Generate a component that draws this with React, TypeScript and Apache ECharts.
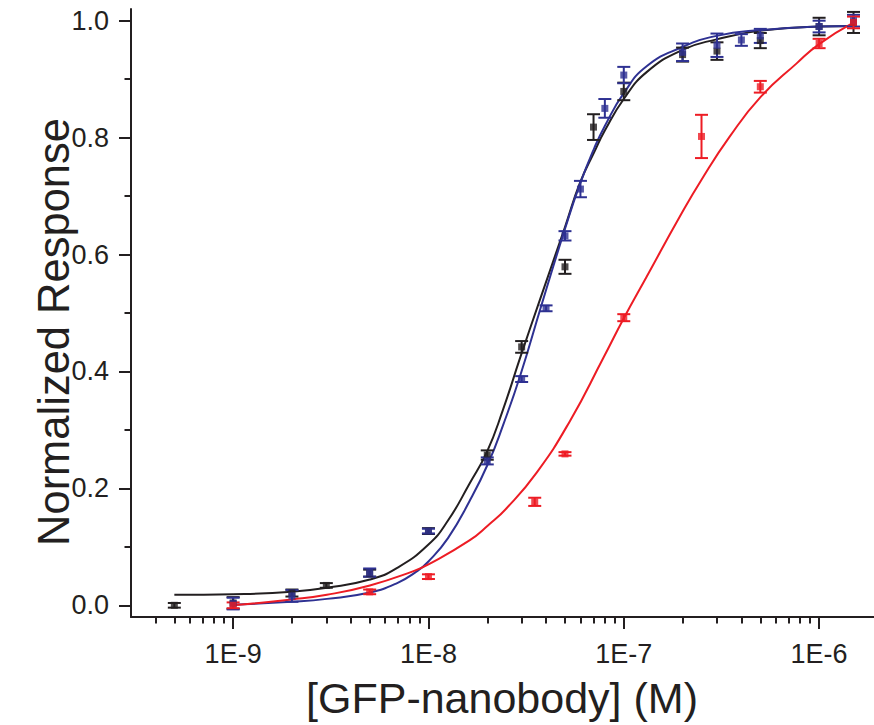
import React, { useEffect, useRef } from "react";
import * as echarts from "echarts";

// ---------- axes ----------
const X_MIN_CONC = 3e-10;
const X_MAX_CONC = 1.91e-6;
const X_MAJOR_EXP = [-9, -8, -7, -6];
const X_MINOR_MULT = [2, 3, 4, 5, 6, 7, 8, 9];
const X_MINOR_DECADES = [-10, -9, -8, -7, -6];
const Y_MIN = -0.02;
const Y_MAX = 1.02;
const Y_MAJOR = [0, 0.2, 0.4, 0.6, 0.8, 1.0];
const Y_MINOR = [0.1, 0.3, 0.5, 0.7, 0.9];

// ---------- measured points ----------
const BLACK_CONC = [5e-10, 1e-9, 2e-9, 3e-9, 5e-9, 1e-8, 2e-8, 3e-8, 5e-8, 7e-8, 1e-7, 2e-7, 3e-7, 5e-7, 1e-6, 1.5e-6];
const BLACK_VAL = [0.0, 0.004, 0.021, 0.034, 0.055, 0.127, 0.257, 0.442, 0.579, 0.818, 0.879, 0.942, 0.948, 0.966, 0.99, 0.997];
const BLACK_ERR = [0.004, 0.01, 0.006, 0.004, 0.006, 0.005, 0.008, 0.01, 0.012, 0.022, 0.015, 0.012, 0.015, 0.013, 0.015, 0.018];

const BLUE_CONC = [1e-9, 2e-9, 5e-9, 1e-8, 2e-8, 3e-8, 4e-8, 5e-8, 6e-8, 8e-8, 1e-7, 2e-7, 3e-7, 4e-7, 5e-7, 1e-6, 1.5e-6];
const BLUE_VAL = [0.003, 0.016, 0.056, 0.127, 0.247, 0.387, 0.508, 0.632, 0.712, 0.85, 0.907, 0.946, 0.958, 0.967, 0.974, 0.99, 1.0];
const BLUE_ERR = [0.01, 0.01, 0.007, 0.004, 0.006, 0.005, 0.005, 0.008, 0.014, 0.016, 0.014, 0.015, 0.02, 0.01, 0.012, 0.01, 0.01];

const RED_CONC = [1e-9, 5e-9, 1e-8, 3.5e-8, 5e-8, 1e-7, 2.5e-7, 5e-7, 1e-6, 1.5e-6];
const RED_VAL = [0.0, 0.023, 0.049, 0.177, 0.259, 0.492, 0.802, 0.887, 0.961, 0.997];
const RED_ERR = [0.005, 0.004, 0.004, 0.007, 0.003, 0.006, 0.037, 0.01, 0.008, 0.01];

// ---------- fitted curves (log10 of concentration) ----------
const BLACK_FIT_LOGX = [-9.301, -9.0, -8.7, -8.52, -8.3, -8.16, -8.0, -7.9, -7.79, -7.7, -7.62, -7.53, -7.43, -7.3, -7.225, -7.15, -7.097, -7.0, -6.883, -6.7, -6.525, -6.3, -6.0, -5.822];
const BLACK_FIT_VAL = [0.018, 0.019, 0.023, 0.03, 0.044, 0.064, 0.104, 0.145, 0.208, 0.263, 0.333, 0.424, 0.522, 0.648, 0.722, 0.776, 0.812, 0.866, 0.912, 0.95, 0.968, 0.983, 0.99, 0.991];

const BLUE_FIT_LOGX = [-9.0, -8.7, -8.52, -8.3, -8.16, -8.06, -8.0, -7.9, -7.79, -7.694, -7.616, -7.53, -7.42, -7.3, -7.225, -7.15, -7.097, -7.0, -6.883, -6.7, -6.525, -6.3, -6.0, -5.822];
const BLUE_FIT_VAL = [0.001, 0.006, 0.011, 0.022, 0.038, 0.058, 0.075, 0.115, 0.178, 0.243, 0.31, 0.393, 0.515, 0.645, 0.72, 0.783, 0.82, 0.876, 0.922, 0.955, 0.974, 0.984, 0.99, 0.991];

const RED_FIT_LOGX = [-9.0, -8.7, -8.52, -8.3, -8.08, -8.0, -7.79, -7.694, -7.6, -7.446, -7.276, -7.105, -7.0, -6.883, -6.713, -6.602, -6.457, -6.298, -6.115, -6.0, -5.822];
const RED_FIT_VAL = [0.0, 0.01, 0.018, 0.034, 0.058, 0.07, 0.111, 0.137, 0.166, 0.227, 0.315, 0.423, 0.491, 0.562, 0.665, 0.728, 0.802, 0.87, 0.927, 0.96, 0.997];

const X_TITLE = "[GFP-nanobody] (M)";
const Y_TITLE = "Normalized Response";

const BLACK = "#231f20";
const BLUE = "#2e3192";
const RED = "#ed1c24";
const FONT = "'Liberation Sans', Arial, Helvetica, sans-serif";

export default function App() {
  const ref = useRef<HTMLDivElement>(null);

  useEffect(() => {
    if (!ref.current) return;
    const chart = echarts.init(ref.current, undefined, { renderer: "svg" });

    const xMin = Math.log10(X_MIN_CONC);
    const xMax = Math.log10(X_MAX_CONC);
    const minorX: number[] = [];
    X_MINOR_DECADES.forEach((d) => {
      X_MINOR_MULT.forEach((m) => {
        const v = Math.log10(m) + d;
        if (v > xMin + 1e-6 && v < xMax - 1e-6) minorX.push(v);
      });
    });

    const pts = (conc: number[], val: number[], err: number[]) =>
      conc.map((c, i) => [Math.log10(c), val[i], err[i]]);
    const fit = (lx: number[], val: number[]) => lx.map((x, i) => [x, val[i]]);

    const errSeries = (data: number[][], color: string) => ({
      type: "custom",
      xAxisIndex: 0,
      yAxisIndex: 0,
      silent: true,
      encode: { x: 0, y: 1 },
      data,
      z: 4,
      renderItem: (_params: any, api: any) => {
        const x = api.value(0);
        const y = api.value(1);
        const e = api.value(2);
        const p1 = api.coord([x, y + e]);
        const p2 = api.coord([x, y - e]);
        const w = 6.5;
        const style = { stroke: color, lineWidth: 2, fill: null };
        return {
          type: "group",
          children: [
            { type: "line", shape: { x1: p1[0], y1: p1[1], x2: p2[0], y2: p2[1] }, style },
            { type: "line", shape: { x1: p1[0] - w, y1: p1[1], x2: p1[0] + w, y2: p1[1] }, style },
            { type: "line", shape: { x1: p2[0] - w, y1: p2[1], x2: p2[0] + w, y2: p2[1] }, style },
          ],
        };
      },
    });

    const lineSeries = (data: number[][], color: string) => ({
      type: "line",
      xAxisIndex: 0,
      yAxisIndex: 0,
      data,
      smooth: true,
      showSymbol: false,
      symbol: "none",
      silent: true,
      z: 3,
      lineStyle: { color, width: 2 },
    });

    const scatterSeries = (data: number[][], color: string) => ({
      type: "scatter",
      xAxisIndex: 0,
      yAxisIndex: 0,
      data: data.map((d) => [d[0], d[1]]),
      symbol: "rect",
      symbolSize: 7,
      silent: true,
      z: 5,
      itemStyle: { color },
    });

    const blackPts = pts(BLACK_CONC, BLACK_VAL, BLACK_ERR);
    const bluePts = pts(BLUE_CONC, BLUE_VAL, BLUE_ERR);
    const redPts = pts(RED_CONC, RED_VAL, RED_ERR);

    const axisLine = { show: true, onZero: false, lineStyle: { color: BLACK, width: 2 } };
    const hiddenLine = { show: false, onZero: false };

    chart.setOption({
      animation: false,
      backgroundColor: "#ffffff",
      grid: { left: 131, right: 0, top: 9, bottom: 108, containLabel: false },
      xAxis: [
        {
          type: "value",
          position: "bottom",
          min: xMin,
          max: xMax,
          axisLine,
          splitLine: { show: false },
          axisTick: {
            show: true,
            inside: false,
            length: 12,
            customValues: X_MAJOR_EXP,
            lineStyle: { color: BLACK, width: 2 },
          },
          axisLabel: {
            show: true,
            customValues: X_MAJOR_EXP,
            margin: 23,
            fontSize: 27,
            fontFamily: FONT,
            color: BLACK,
            formatter: (v: number) => "1E" + Math.round(v),
          },
        },
        {
          type: "value",
          position: "bottom",
          min: xMin,
          max: xMax,
          axisLine: hiddenLine,
          splitLine: { show: false },
          axisTick: {
            show: true,
            inside: false,
            length: 6.5,
            customValues: minorX,
            lineStyle: { color: BLACK, width: 2 },
          },
          axisLabel: { show: false },
        },
      ],
      yAxis: [
        {
          type: "value",
          position: "left",
          min: Y_MIN,
          max: Y_MAX,
          axisLine,
          splitLine: { show: false },
          axisTick: {
            show: true,
            inside: false,
            length: 12,
            customValues: Y_MAJOR,
            lineStyle: { color: BLACK, width: 2 },
          },
          axisLabel: {
            show: true,
            customValues: Y_MAJOR,
            margin: 22,
            fontSize: 27,
            fontFamily: FONT,
            color: BLACK,
            formatter: (v: number) => v.toFixed(1),
          },
        },
        {
          type: "value",
          position: "left",
          min: Y_MIN,
          max: Y_MAX,
          axisLine: hiddenLine,
          splitLine: { show: false },
          axisTick: {
            show: true,
            inside: false,
            length: 6.5,
            customValues: Y_MINOR,
            lineStyle: { color: BLACK, width: 2 },
          },
          axisLabel: { show: false },
        },
      ],
      graphic: [
        {
          type: "text",
          x: 502,
          y: 698,
          style: {
            text: X_TITLE,
            font: `43px ${FONT}`,
            fill: BLACK,
            textAlign: "center",
            textVerticalAlign: "middle",
          },
        },
        {
          type: "text",
          x: 54,
          y: 332,
          rotation: Math.PI / 2,
          style: {
            text: Y_TITLE,
            font: `43.5px ${FONT}`,
            fill: BLACK,
            textAlign: "center",
            textVerticalAlign: "middle",
          },
        },
      ],
      series: [
        lineSeries(fit(BLACK_FIT_LOGX, BLACK_FIT_VAL), BLACK),
        lineSeries(fit(BLUE_FIT_LOGX, BLUE_FIT_VAL), BLUE),
        lineSeries(fit(RED_FIT_LOGX, RED_FIT_VAL), RED),
        errSeries(blackPts, BLACK),
        errSeries(bluePts, BLUE),
        errSeries(redPts, RED),
        scatterSeries(blackPts, BLACK),
        scatterSeries(bluePts, BLUE),
        scatterSeries(redPts, RED),
      ],
    });

    return () => chart.dispose();
  }, []);

  return (
    <div
      ref={ref}
      style={{ position: "absolute", left: 0, top: 0, width: 874, height: 725 }}
    />
  );
}
